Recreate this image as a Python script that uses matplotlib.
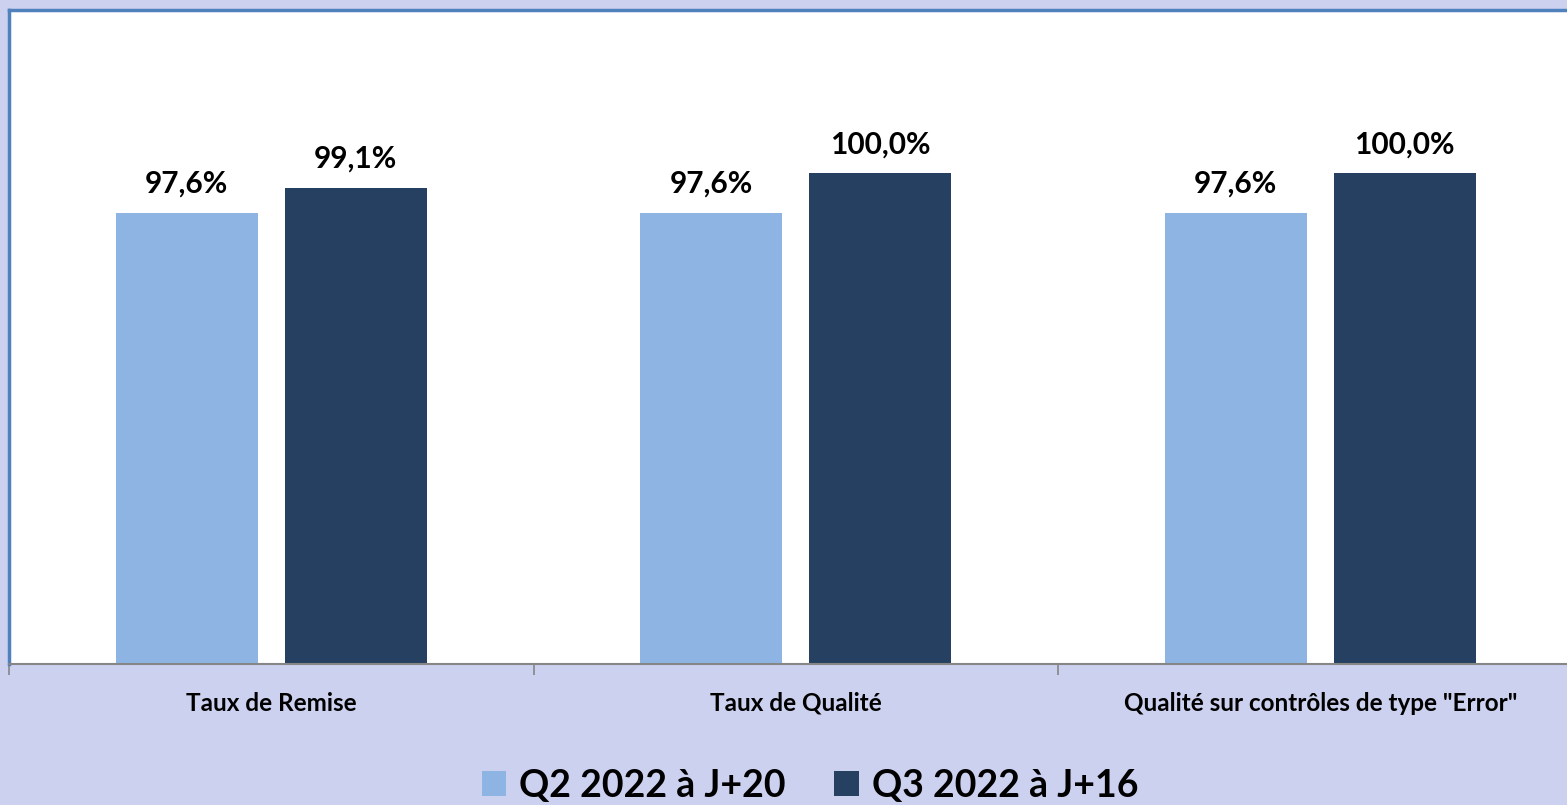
import numpy as np
import matplotlib.pyplot as plt
from matplotlib.patches import Patch

# Données
categories = ["Taux de Remise", "Taux de Qualité", "Qualité sur contrôles de type \"Error\""]
series_noms = ["Q2 2022 à J+20", "Q3 2022 à J+16"]
q2_valeurs = [97.6, 97.6, 97.6]
q3_valeurs = [99.1, 100.0, 100.0]

COULEUR_Q2 = "#8EB4E3"
COULEUR_Q3 = "#254061"
FOND = "#CDD1F0"
plt.rcParams['font.family'] = ['Lato', 'DejaVu Sans']

fig = plt.figure(figsize=(15.67, 8.05), dpi=100)
fig.patch.set_facecolor(FOND)

# la zone de tracé dépasse à droite de la figure (comme l'original rogné)
W, H = 1567, 805
gauche, haut, bas = 9, 10, 664
largeur = 3 * 524.5
ax = fig.add_axes([gauche / W, 1 - bas / H, largeur / W, (bas - haut) / H])
ax.set_facecolor("white")

x = np.arange(len(categories))
larg = 0.27
dec = 0.161
b1 = ax.bar(x - dec, q2_valeurs, larg, color=COULEUR_Q2)
b2 = ax.bar(x + dec, q3_valeurs, larg, color=COULEUR_Q3)

for barres in (b1, b2):
    for b in barres:
        v = b.get_height()
        ax.annotate(f"{v:.1f}%".replace(".", ","), (b.get_x() + b.get_width() / 2, v),
                    xytext=(0, 11), textcoords="offset points", ha="center", va="bottom",
                    fontsize=21.5, fontweight="bold", color="black")

ax.set_xlim(-0.5, 2.5)
ax.set_ylim(70, 110)
ax.set_yticks([])
ax.set_xticks(x)
ax.set_xticklabels(categories, fontsize=17.5, fontweight="bold")
ax.tick_params(axis="x", which="major", length=0, pad=20)
ax.set_xticks([-0.5, 0.5, 1.5, 2.5], minor=True)
ax.tick_params(axis="x", which="minor", length=8, width=1.2, color="#868686", direction="out")

for cote in ("left", "top"):
    ax.spines[cote].set_color("#4F81BD")
    ax.spines[cote].set_linewidth(2.5)
ax.spines["right"].set_visible(False)
ax.spines["bottom"].set_color("#868686")
ax.spines["bottom"].set_linewidth(1.5)

poignees = [Patch(facecolor=COULEUR_Q2), Patch(facecolor=COULEUR_Q3)]
fig.legend(poignees, series_noms, loc="center", bbox_to_anchor=(810 / W, 1 - 786 / H),
           ncol=2, frameon=False, prop={"size": 27, "weight": "bold"},
           handlelength=0.65, handleheight=0.65, handletextpad=0.35, columnspacing=1.3)

fig.savefig("out.png", dpi=100, facecolor=FOND)
